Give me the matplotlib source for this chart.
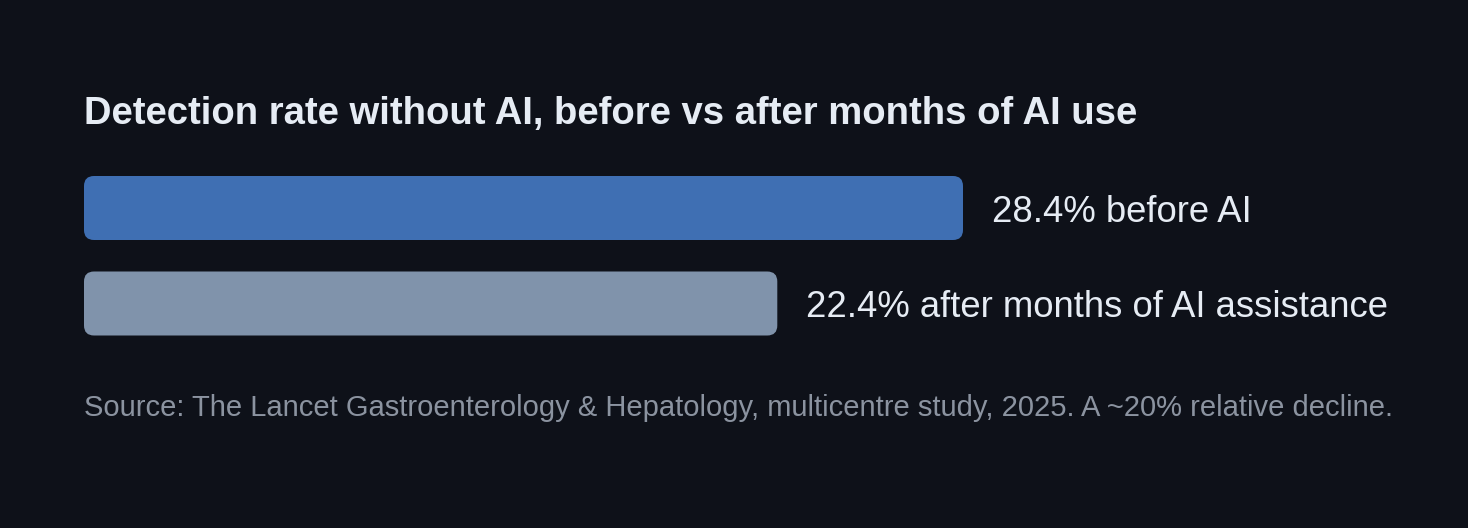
import matplotlib
matplotlib.use("Agg")
import matplotlib.pyplot as plt
from matplotlib.patches import FancyBboxPatch

# ---- data ----
categories = ["before AI", "after months of AI assistance"]
values = [28.4, 22.4]
value_labels = ["28.4% before AI", "22.4% after months of AI assistance"]
title = "Detection rate without AI, before vs after months of AI use"
source = "Source: The Lancet Gastroenterology & Hepatology, multicentre study, 2025. A ~20% relative decline."

# ---- style ----
BG = "#0e1119"
BAR_COLORS = ["#3f6fb3", "#8093ab"]
TEXT = "#e6ecf4"
MUTED = "#8b93a0"
plt.rcParams["font.family"] = ["Liberation Sans", "DejaVu Sans"]

W, H = 1468, 528
fig = plt.figure(figsize=(W / 100, H / 100), dpi=100, facecolor=BG)
ax = fig.add_axes([0, 0, 1, 1])
ax.set_facecolor(BG)

# pixel geometry -> axis limits
x0_px, x1_px = 84, 963          # zero and max value position
px_per_unit = (x1_px - x0_px) / max(values)
ax.set_xlim(-x0_px / px_per_unit, (W - x0_px) / px_per_unit)
c0_px, c1_px = 208, 303.5       # category centers
py_per_unit = c1_px - c0_px
ax.set_ylim((H - c0_px) / py_per_unit, -c0_px / py_per_unit)
ax.axis("off")

bar_h = 64 / py_per_unit
radius_px = 10
aspect = (1 / py_per_unit) / (1 / px_per_unit)
for i, (v, c, lab) in enumerate(zip(values, BAR_COLORS, value_labels)):
    patch = FancyBboxPatch((0, i - bar_h / 2), v, bar_h,
                           boxstyle=f"round,pad=0,rounding_size={radius_px / px_per_unit}",
                           mutation_aspect=aspect, facecolor=c, edgecolor="none")
    ax.add_patch(patch)
    ax.annotate(lab, xy=(v, i), xytext=(21, 0), textcoords="offset points",
                ha="left", va="center_baseline", color=TEXT, fontsize=26.3)

fig.text(84 / W, 1 - 124 / H, title, ha="left", va="baseline",
         color=TEXT, fontsize=27.5, fontweight="bold")
fig.text(84 / W, 1 - 416 / H, source, ha="left", va="baseline",
         color=MUTED, fontsize=21)

fig.savefig("out.png", dpi=100, facecolor=BG)
